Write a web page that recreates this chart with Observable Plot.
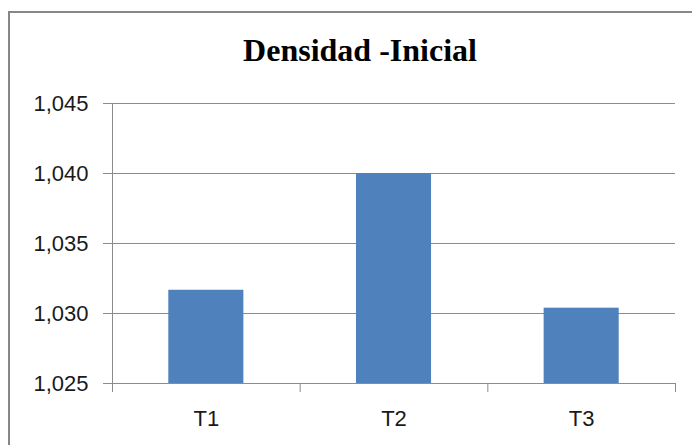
<!DOCTYPE html>
<html>
<head>
<meta charset="utf-8">
<script src="https://cdn.jsdelivr.net/npm/d3@7"></script>
<script src="https://cdn.jsdelivr.net/npm/@observablehq/plot@0.6"></script>
<style>
  html, body { margin: 0; padding: 0; background: #fff; }
  #wrap { position: relative; width: 692px; height: 445px; overflow: hidden; background: #fff; }
  #border { position: absolute; left: 8px; top: 11px; width: 720px; height: 480px; border-left: 2px solid #878787; border-top: 2px solid #878787; box-sizing: border-box; }
  #title { position: absolute; left: 8px; width: 704px; top: 30px; text-align: center; font-family: "Liberation Serif", "Times New Roman", serif; font-weight: bold; font-size: 32px; line-height: 40px; color: #000; }
  #chart { position: absolute; left: 0; top: 0; }
</style>
</head>
<body>
<div id="wrap">
  <div id="border"></div>
  <div id="title">Densidad -Inicial</div>
  <div id="chart"></div>
</div>
<script>
const categories = ["T1", "T2", "T3"];
const values = [1.03166, 1.04, 1.03038];
const yTicks = [1.025, 1.030, 1.035, 1.040, 1.045];
const yDomain = [1.025, 1.045];

const data = categories.map((c, i) => ({cat: c, pos: i + 1, value: values[i]}));
const centers = data.map(d => d.pos);
const boundaries = [0.5, ...centers.map(p => p + 0.5)];
const barHalf = 0.2;
const fmt = d => d.toFixed(3).replace(".", ",");

const chart = Plot.plot({
  width: 692,
  height: 445,
  marginLeft: 112,
  marginRight: 17,
  marginTop: 103,
  marginBottom: 62,
  style: {fontFamily: "'Liberation Sans', Arial, sans-serif", fontSize: "22px", color: "#1a1a1a", background: "transparent", overflow: "visible"},
  x: {type: "linear", domain: [0.5, categories.length + 0.5]},
  y: {domain: yDomain},
  marks: [
    Plot.ruleY(yTicks, {stroke: "#8c8c8c", strokeWidth: 1}),
    Plot.rectY(data, {x1: d => d.pos - barHalf, x2: d => d.pos + barHalf, y1: yDomain[0], y2: "value", fill: "#4F81BD"}),
    Plot.ruleX([0.5], {stroke: "#8c8c8c", strokeWidth: 1}),
    Plot.axisY({ticks: yTicks, tickFormat: fmt, tickSize: 9, tickPadding: 15, stroke: "#8c8c8c", fill: "#1a1a1a", label: null}),
    Plot.axisX({ticks: boundaries, tickFormat: () => "", tickSize: 9, stroke: "#8c8c8c", label: null}),
    Plot.axisX({ticks: centers, tickFormat: p => categories[p - 1], tickSize: 0, tickPadding: 27, fill: "#1a1a1a", label: null})
  ]
});
document.getElementById("chart").appendChild(chart);
</script>
</body>
</html>
